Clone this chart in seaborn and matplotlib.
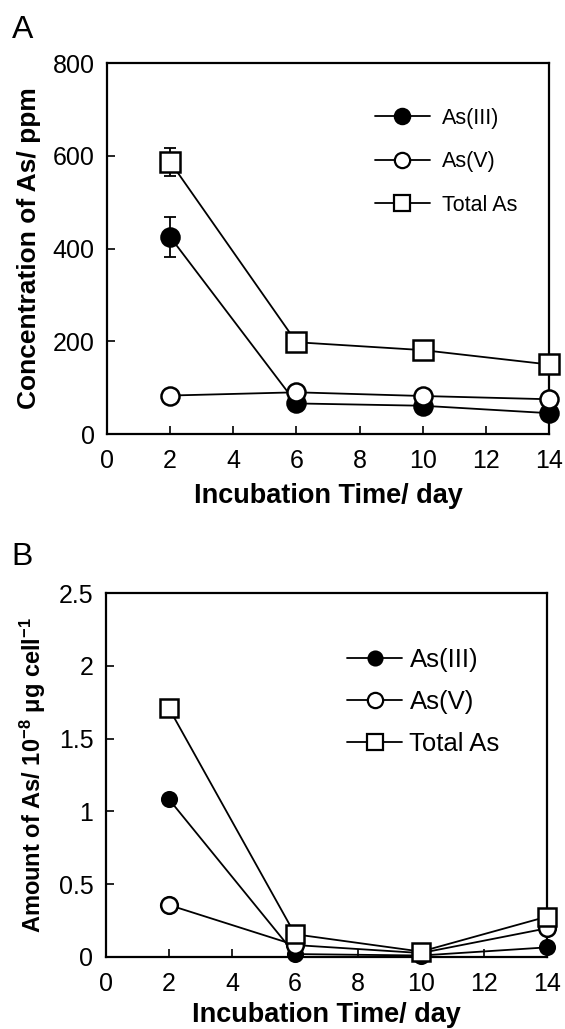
import matplotlib
matplotlib.use("Agg")
import matplotlib.pyplot as plt
import seaborn as sns
import pandas as pd
from matplotlib.lines import Line2D

# ---------------- data ----------------
days = [2, 6, 10, 14]
conc_as3 = [425, 66, 61, 45]
conc_as5 = [83, 90, 82, 75]
conc_total = [587, 198, 181, 150]
err_day = [2]
err_as3 = [44]
err_total = [30]

amt_as3 = [1.083, 0.02, 0.01, 0.066]
amt_as5 = [0.357, 0.082, 0.027, 0.197]
amt_total = [1.708, 0.156, 0.037, 0.277]

series_names = ["As(III)", "As(V)", "Total As"]
x_ticks = [0, 2, 4, 6, 8, 10, 12, 14]
yA_ticks = [0, 200, 400, 600, 800]
yB_ticks = [0, 0.5, 1, 1.5, 2, 2.5]
yB_ticklabels = ["0", "0.5", "1", "1.5", "2", "2.5"]

dfA = pd.DataFrame({"day": days * 3,
                    "value": conc_as3 + conc_as5 + conc_total,
                    "series": sum([[s] * 4 for s in series_names], [])})
dfB = pd.DataFrame({"day": days * 3,
                    "value": amt_as3 + amt_as5 + amt_total,
                    "series": sum([[s] * 4 for s in series_names], [])})

# ---------------- style ----------------
sns.set_style("ticks")
plt.rcParams["font.family"] = ["Liberation Sans", "DejaVu Sans"]
plt.rcParams["mathtext.fontset"] = "custom"
plt.rcParams["mathtext.rm"] = "Liberation Sans:bold"
plt.rcParams["mathtext.bf"] = "Liberation Sans:bold"
plt.rcParams["mathtext.default"] = "bf"
plt.rcParams["text.color"] = "black"
plt.rcParams["axes.labelcolor"] = "black"
plt.rcParams["xtick.color"] = "black"
plt.rcParams["ytick.color"] = "black"

fig = plt.figure(figsize=(5.65, 10.29), dpi=100)
axA = fig.add_axes([0.1894, 0.5782, 0.7823, 0.3605])
axB = fig.add_axes([0.1876, 0.0700, 0.7805, 0.3537])

lw = 1.3

def draw(ax, df, sizes):
    styles = {
        "As(III)": dict(marker="o", mfc="black", ms=sizes[0], z=4),
        "As(V)": dict(marker="o", mfc="white", ms=sizes[1], z=5),
        "Total As": dict(marker="s", mfc="white", ms=sizes[2], z=6),
    }
    for name in series_names:
        st = styles[name]
        sub = df[df["series"] == name]
        sns.lineplot(data=sub, x="day", y="value", ax=ax, color="black",
                     linewidth=lw, marker=st["marker"], markersize=st["ms"],
                     markerfacecolor=st["mfc"], markeredgecolor="black",
                     markeredgewidth=1.8, clip_on=False, zorder=st["z"],
                     errorbar=None, legend=False)

def style_axes(ax, ylim, yticks, yticklabels=None):
    ax.set_xlim(0, 14)
    ax.set_ylim(*ylim)
    ax.set_xticks(x_ticks)
    ax.set_yticks(yticks)
    if yticklabels is not None:
        ax.set_yticklabels(yticklabels)
    for s in ax.spines.values():
        s.set_visible(True)
        s.set_linewidth(1.6)
        s.set_color("black")
    ax.tick_params(axis="both", direction="in", length=6, width=1.2,
                   labelsize=18, colors="black")
    ax.tick_params(axis="x", pad=11)
    ax.tick_params(axis="y", pad=9)
    ax.tick_params(top=False, right=False)
    ax.set_facecolor("white")

# ---------------- panel A ----------------
draw(axA, dfA, (13, 13, 15))
axA.errorbar(err_day, [conc_as3[0]], yerr=err_as3, fmt="none", ecolor="black",
             elinewidth=1.3, capsize=4, capthick=1.3, zorder=3, clip_on=False)
axA.errorbar(err_day, [conc_total[0]], yerr=err_total, fmt="none", ecolor="black",
             elinewidth=1.3, capsize=4, capthick=1.3, zorder=3, clip_on=False)
style_axes(axA, (0, 800), yA_ticks)
axA.set_xlabel("Incubation Time/ day", fontsize=19.5, fontweight="bold", labelpad=7)
axA.set_ylabel("Concentration of As/ ppm", fontsize=19, fontweight="bold", labelpad=8)

hA = [Line2D([], [], color="black", lw=lw, marker="o", ms=11, mfc="black", mec="black", mew=1.6),
      Line2D([], [], color="black", lw=lw, marker="o", ms=11, mfc="white", mec="black", mew=1.6),
      Line2D([], [], color="black", lw=lw, marker="s", ms=12, mfc="white", mec="black", mew=1.6)]
axA.legend(hA, series_names, loc="upper left", bbox_to_anchor=(0.606, 0.88),
           frameon=False, fontsize=15.5, handlelength=2.55, handletextpad=0.56,
           labelspacing=1.05, borderpad=0, borderaxespad=0)

# ---------------- panel B ----------------
draw(axB, dfB, (10.5, 12, 13.5))
style_axes(axB, (0, 2.5), yB_ticks, yB_ticklabels)
axB.set_xlabel("Incubation Time/ day", fontsize=19.5, fontweight="bold", labelpad=4)
axB.set_ylabel(r"Amount of As/ 10$^{-8}$ μg cell$^{-1}$", fontsize=17,
               fontweight="bold", labelpad=8)

hB = [Line2D([], [], color="black", lw=lw, marker="o", ms=10, mfc="black", mec="black", mew=1.6),
      Line2D([], [], color="black", lw=lw, marker="o", ms=11, mfc="white", mec="black", mew=1.6),
      Line2D([], [], color="black", lw=lw, marker="s", ms=12, mfc="white", mec="black", mew=1.6)]
axB.legend(hB, series_names, loc="upper left", bbox_to_anchor=(0.546, 0.85),
           frameon=False, fontsize=18.5, handlelength=2.16, handletextpad=0.28,
           labelspacing=0.7, borderpad=0, borderaxespad=0)

# panel letters
fig.text(12 / 565, 1 - 38 / 1029, "A", fontsize=23, ha="left", va="baseline")
fig.text(11 / 565, 1 - 565 / 1029, "B", fontsize=23, ha="left", va="baseline")

fig.savefig("out.png", dpi=100, facecolor="white")
